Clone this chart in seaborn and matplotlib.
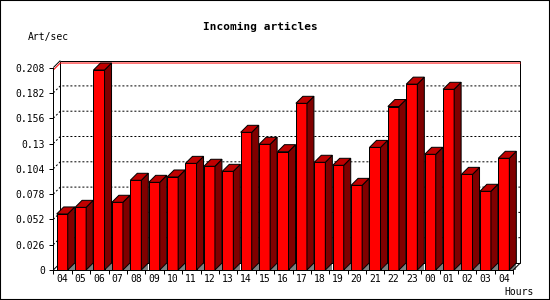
import numpy as np
import pandas as pd
import matplotlib
matplotlib.use("Agg")
import matplotlib.pyplot as plt
from matplotlib.patches import Polygon, Rectangle
import seaborn as sns

# ---- data ----
hours = ["04", "05", "06", "07", "08", "09", "10", "11", "12", "13", "14", "15",
         "16", "17", "18", "19", "20", "21", "22", "23", "00", "01", "02", "03", "04"]
values = [0.0576, 0.0644, 0.2055, 0.0696, 0.0922, 0.0901, 0.0956, 0.1096, 0.1066,
          0.1014, 0.1415, 0.1292, 0.1216, 0.1713, 0.1107, 0.1076, 0.0870, 0.1260,
          0.1680, 0.1910, 0.1189, 0.1857, 0.0983, 0.0809, 0.1148]
yticks = [0, 0.026, 0.052, 0.078, 0.104, 0.13, 0.156, 0.182, 0.208]
ytick_labels = ["0", "0.026", "0.052", "0.078", "0.104", "0.13", "0.156", "0.182", "0.208"]
title = "Incoming articles"
ylabel = "Art/sec"
xlabel = "Hours"

sns.set_theme(style="white")
plt.rcParams["font.family"] = ["DejaVu Sans Mono"]

W, H = 550, 300
fig = plt.figure(figsize=(W / 100, H / 100), dpi=100)
fig.patch.set_facecolor("white")
ax_l, ax_b, ax_w, ax_h = 53.3, 30.0, 460.0, 202.4
ax = fig.add_axes([ax_l / W, ax_b / H, ax_w / W, ax_h / H])
ax.set_facecolor("none")

df = pd.DataFrame({"pos": np.arange(len(values)), "value": values})
sns.barplot(data=df, x="pos", y="value", color="#ff0000", saturation=1,
            width=0.6, edgecolor="black", linewidth=0.72, ax=ax, zorder=3)

x0l, x1l = -0.484, len(values) - 0.484
ax.set_xlim(x0l, x1l)
ax.set_ylim(0, yticks[-1])

# depth of the pseudo-3D effect (7 px) in data units
depth_px = 7
dx = depth_px * (x1l - x0l) / ax_w
dy = depth_px * (yticks[-1] - 0) / ax_h

lw = 0.72
# back frame
bx0, bx1 = x0l + dx, x1l + dx
top = yticks[-1]
kw = dict(color="black", lw=lw, clip_on=False, zorder=1, solid_capstyle="butt")
ax.plot([bx0, bx1], [top + dy, top + dy], **kw)
ax.plot([bx0, bx0], [dy, top + dy], **kw)
ax.plot([bx1, bx1], [dy, top + dy], **kw)
ax.plot([bx0, bx1], [dy, dy], **kw)
ax.plot([x0l, bx0], [top, top + dy], **kw)
ax.plot([x0l, bx0], [0, dy], **kw)
ax.plot([x1l, bx1], [0, dy], color="black", lw=lw, clip_on=False, zorder=5)

# dotted grid on back plane
for v in yticks[1:-1]:
    ax.plot([x0l, bx0, bx1], [v, v + dy, v + dy], color="black", lw=lw,
            linestyle=(0, (2, 2)), clip_on=False, zorder=1)

# max value line
vmax = max(values)
ax.plot([x0l, bx0, bx1], [vmax, vmax + dy, vmax + dy], color="#ff0000", lw=lw,
        clip_on=False, zorder=1.5)

# 3D faces from the seaborn bars
for p in list(ax.patches):
    x = p.get_x()
    w = p.get_width()
    h = p.get_height()
    floor = Polygon([(x + w, 0), (x + w + dx, 0), (x + w + dx, dy)], closed=True,
                    facecolor="#808080", edgecolor="none", zorder=2.5, clip_on=False)
    side = Polygon([(x + w, 0), (x + w, h), (x + w + dx, h + dy), (x + w + dx, dy)],
                   closed=True, facecolor="#800000", edgecolor="black", lw=lw,
                   zorder=3, clip_on=False)
    topf = Polygon([(x, h), (x + w, h), (x + w + dx, h + dy), (x + dx, h + dy)],
                   closed=True, facecolor="#c00000", edgecolor="black", lw=lw,
                   zorder=3, clip_on=False)
    ax.add_patch(floor)
    ax.add_patch(side)
    ax.add_patch(topf)

# spines
for s in ["top", "right"]:
    ax.spines[s].set_visible(False)
for s in ["left", "bottom"]:
    ax.spines[s].set_color("black")
    ax.spines[s].set_linewidth(lw)
    ax.spines[s].set_zorder(4)

# ticks
ax.set_yticks(yticks, ytick_labels)
ax.tick_params(axis="y", left=True, length=2.9, width=lw, direction="out",
               pad=2.9, labelsize=7, color="black", labelcolor="black")
bounds = np.arange(len(values) + 1) + x0l
ax.set_xticks(bounds)
ax.set_xticklabels([""] * len(bounds))
ax.set_xticks(np.arange(len(values)), minor=True)
ax.set_xticklabels(hours, minor=True)
ax.tick_params(axis="x", which="major", bottom=True, length=3, width=lw,
               direction="out", color="black")
ax.tick_params(axis="x", which="minor", bottom=True, length=0, pad=3.2,
               labelsize=7, labelcolor="black")
ax.set_xlabel("")
ax.set_ylabel("")

# texts
fig.text(260 / W, 1 - 26.7 / H, title, ha="center", va="center",
         fontsize=8, fontweight="bold", color="black")
fig.text(28.3 / W, 1 - 37.3 / H, ylabel, ha="left", va="center",
         fontsize=7, color="black")
fig.text(534 / W, 1 - 292 / H, xlabel, ha="right", va="center",
         fontsize=7, color="black")

# outer border
fig.patches.append(Rectangle((0, 0), 1, 1, transform=fig.transFigure, fill=False,
                             edgecolor="black", lw=1.5, zorder=10))

fig.savefig("out.png", dpi=100)
